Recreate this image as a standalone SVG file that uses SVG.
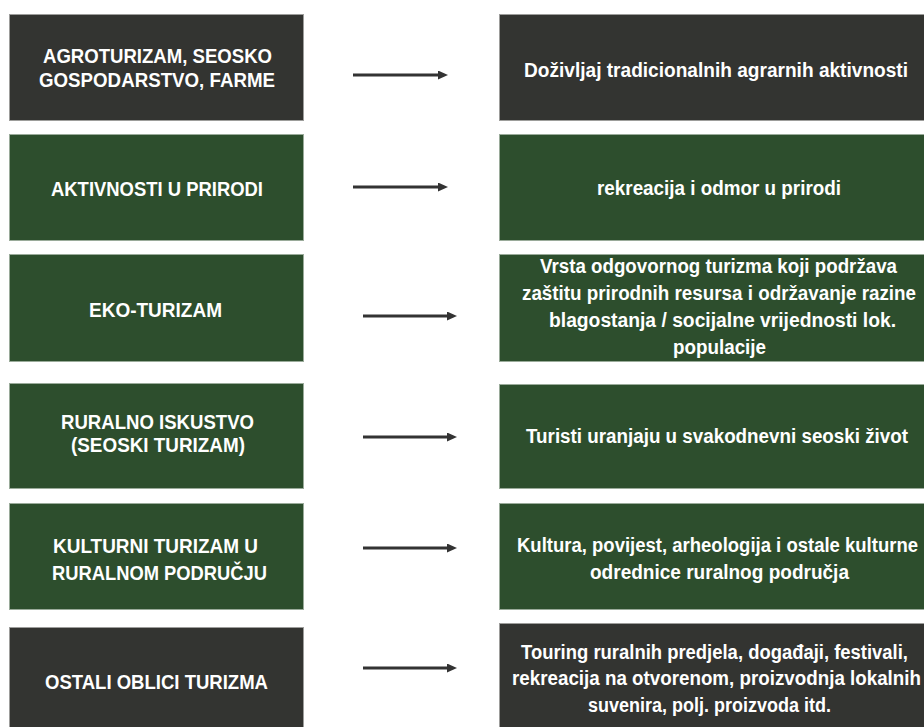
<svg xmlns="http://www.w3.org/2000/svg" width="924" height="727" viewBox="0 0 924 727">
<style>
.dark{fill:#333431;stroke:#9d9d9b;stroke-width:1}
.green{fill:#2d4e2d;stroke:#9aab9a;stroke-width:1}
text{font-family:"Liberation Sans Narrow","Liberation Sans",Arial,sans-serif;font-weight:bold;font-size:20px;fill:#ffffff}
.conn line{stroke:#333333;stroke-width:3}
</style>
<defs>
<marker id="ah" markerUnits="userSpaceOnUse" markerWidth="11" markerHeight="10" refX="2" refY="4.5" orient="auto">
<path d="M0,0 L10,4.5 L0,9 z" fill="#333333"/>
</marker>
</defs>
<rect width="924" height="727" fill="#ffffff"/>

<g id="left1"><rect class="dark" x="9.5" y="14.5" width="294" height="106"/>
<text x="43" y="63" textLength="229" lengthAdjust="spacingAndGlyphs">AGROTURIZAM, SEOSKO</text>
<text x="39" y="87" textLength="236" lengthAdjust="spacingAndGlyphs">GOSPODARSTVO, FARME</text></g>

<g id="left2"><rect class="green" x="9.5" y="134.5" width="294" height="106"/>
<text x="51" y="196" textLength="212" lengthAdjust="spacingAndGlyphs">AKTIVNOSTI U PRIRODI</text></g>

<g id="left3"><rect class="green" x="9.5" y="254.5" width="294" height="107"/>
<text x="89" y="317" textLength="133" lengthAdjust="spacingAndGlyphs">EKO-TURIZAM</text></g>

<g id="left4"><rect class="green" x="9.5" y="383.5" width="294" height="105"/>
<text x="61" y="429" textLength="193" lengthAdjust="spacingAndGlyphs">RURALNO ISKUSTVO</text>
<text x="71" y="452" textLength="174" lengthAdjust="spacingAndGlyphs">(SEOSKI TURIZAM)</text></g>

<g id="left5"><rect class="green" x="9.5" y="503.5" width="294" height="106"/>
<text x="53" y="553" textLength="205" lengthAdjust="spacingAndGlyphs">KULTURNI TURIZAM U</text>
<text x="52" y="580" textLength="215" lengthAdjust="spacingAndGlyphs">RURALNOM PODRUČJU</text></g>

<g id="left6"><rect class="dark" x="9.5" y="627.5" width="294" height="100"/>
<text x="45" y="689" textLength="223" lengthAdjust="spacingAndGlyphs">OSTALI OBLICI TURIZMA</text></g>

<g id="right1"><rect class="dark" x="499.5" y="14.5" width="425" height="106"/>
<text x="524" y="77" textLength="384" lengthAdjust="spacingAndGlyphs">Doživljaj tradicionalnih agrarnih aktivnosti</text></g>

<g id="right2"><rect class="green" x="499.5" y="134.5" width="425" height="106"/>
<text x="597" y="195" textLength="244" lengthAdjust="spacingAndGlyphs">rekreacija i odmor u prirodi</text></g>

<g id="right3"><rect class="green" x="499.5" y="254.5" width="425" height="107"/>
<text x="540" y="273" textLength="357" lengthAdjust="spacingAndGlyphs">Vrsta odgovornog turizma koji podržava</text>
<text x="522" y="300" textLength="394" lengthAdjust="spacingAndGlyphs">zaštitu prirodnih resursa i održavanje razine</text>
<text x="549" y="327" textLength="347" lengthAdjust="spacingAndGlyphs">blagostanja / socijalne vrijednosti lok.</text>
<text x="673" y="354" textLength="93" lengthAdjust="spacingAndGlyphs">populacije</text></g>

<g id="right4"><rect class="green" x="499.5" y="384.5" width="425" height="104"/>
<text x="526" y="443" textLength="382" lengthAdjust="spacingAndGlyphs">Turisti uranjaju u svakodnevni seoski život</text></g>

<g id="right5"><rect class="green" x="499.5" y="503.5" width="425" height="106"/>
<text x="517" y="552" textLength="401" lengthAdjust="spacingAndGlyphs">Kultura, povijest, arheologija i ostale kulturne</text>
<text x="590" y="579" textLength="259" lengthAdjust="spacingAndGlyphs">odrednice ruralnog područja</text></g>

<g id="right6"><rect class="dark" x="499.5" y="623.5" width="425" height="104"/>
<text x="521" y="659" textLength="387" lengthAdjust="spacingAndGlyphs">Touring ruralnih predjela, događaji, festivali,</text>
<text x="512" y="685" textLength="409" lengthAdjust="spacingAndGlyphs">rekreacija na otvorenom, proizvodnja lokalnih</text>
<text x="588" y="712" textLength="243" lengthAdjust="spacingAndGlyphs">suvenira, polj. proizvoda itd.</text></g>

<g id="connectors" class="conn">
<line x1="353" y1="75" x2="440" y2="75" marker-end="url(#ah)"/>
<line x1="353" y1="187" x2="440" y2="187" marker-end="url(#ah)"/>
<line x1="363" y1="316" x2="449" y2="316" marker-end="url(#ah)"/>
<line x1="363" y1="437" x2="449" y2="437" marker-end="url(#ah)"/>
<line x1="363" y1="548" x2="449" y2="548" marker-end="url(#ah)"/>
<line x1="363" y1="668" x2="449" y2="668" marker-end="url(#ah)"/>
</g>
</svg>
